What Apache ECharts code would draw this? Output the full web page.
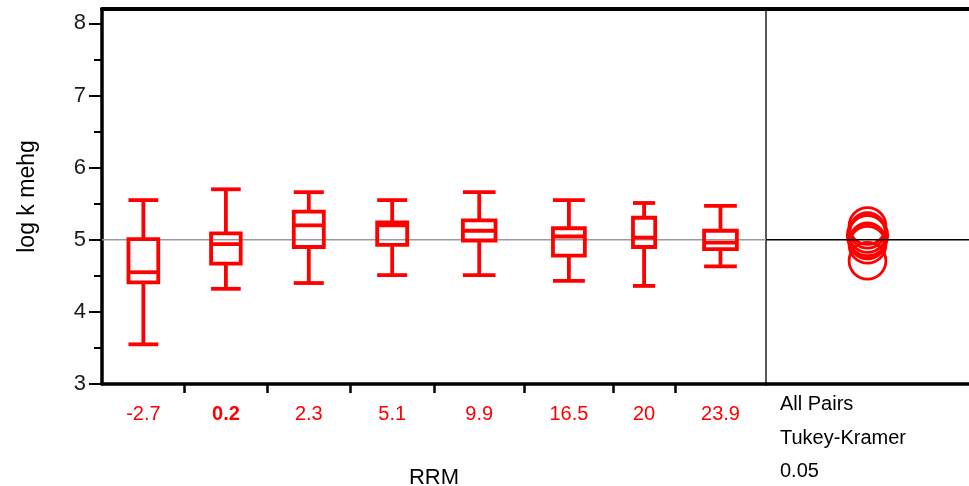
<!DOCTYPE html>
<html><head><meta charset="utf-8">
<script src="https://cdn.jsdelivr.net/npm/echarts@6/dist/echarts.min.js"></script>
<style>html,body{margin:0;padding:0;background:#fff}#c{width:969px;height:486px}</style>
</head><body><div id="c"></div>
<script>
// ---- data ----
const categories   = ['-2.7', '0.2', '2.3', '5.1', '9.9', '16.5', '20', '23.9'];
const boldCategory = '0.2';
const groupWeights = [8.27, 8.23, 8.34, 8.33, 9.07, 8.86, 6.17, 9.10];
const whiskerLow   = [3.55, 4.32, 4.40, 4.51, 4.51, 4.43, 4.36, 4.63];
const q1           = [4.41, 4.67, 4.90, 4.93, 4.99, 4.78, 4.90, 4.87];
const median       = [4.55, 4.94, 5.20, 5.20, 5.125, 5.045, 5.03, 4.96];
const q3           = [5.01, 5.09, 5.39, 5.24, 5.27, 5.16, 5.305, 5.125];
const whiskerHigh  = [5.55, 5.70, 5.66, 5.55, 5.66, 5.55, 5.51, 5.47];
const groupMeans   = [4.71, 4.93, 5.19, 5.08, 5.13, 4.99, 5.06, 4.98];
const circleRadii  = [0.255, 0.255, 0.255, 0.255, 0.245, 0.245, 0.28, 0.245];
const grandMean    = 5;
const yTicks       = [3, 4, 5, 6, 7, 8];
const yMinorTicks  = [3.5, 4.5, 5.5, 6.5, 7.5];
const yMin = 3, yMax = 8.2;
const comparisonText = ['All Pairs', 'Tukey-Kramer', '0.05'];
const xName = 'RRM', yName = 'log k mehg';

// ---- derived ----
const total = groupWeights.reduce((a, b) => a + b, 0);
const bounds = [0];
groupWeights.forEach(w => bounds.push(bounds[bounds.length - 1] + w));
const centers = groupWeights.map((w, i) => bounds[i] + w / 2);
const innerBounds = bounds.slice(1, bounds.length - 1);
const boxData = categories.map((c, i) => [centers[i], whiskerLow[i], q1[i], median[i], q3[i], whiskerHigh[i], groupWeights[i]]);
const circleData = groupMeans.map((m, i) => [0.5, m, circleRadii[i]]);

const RED = '#ff0000';
const BOX_FRAC = 0.36;
const LW = 3.8;

function renderBox(params, api) {
  const x = api.value(0), hw = api.value(6) * BOX_FRAC / 2;
  const xl = api.coord([x - hw, yMin])[0], xr = api.coord([x + hw, yMin])[0], xc = api.coord([x, yMin])[0];
  const yLo = api.coord([x, api.value(1)])[1];
  const yQ1 = api.coord([x, api.value(2)])[1];
  const yMd = api.coord([x, api.value(3)])[1];
  const yQ3 = api.coord([x, api.value(4)])[1];
  const yHi = api.coord([x, api.value(5)])[1];
  const st = { stroke: RED, lineWidth: LW, fill: null };
  return {
    type: 'group',
    children: [
      { type: 'line', shape: { x1: xc, y1: yQ3, x2: xc, y2: yHi }, style: st },
      { type: 'line', shape: { x1: xc, y1: yQ1, x2: xc, y2: yLo }, style: st },
      { type: 'line', shape: { x1: xl, y1: yHi, x2: xr, y2: yHi }, style: st },
      { type: 'line', shape: { x1: xl, y1: yLo, x2: xr, y2: yLo }, style: st },
      { type: 'rect', shape: { x: xl, y: yQ3, width: xr - xl, height: yQ1 - yQ3 }, style: { stroke: RED, lineWidth: LW, fill: 'rgba(0,0,0,0)' } },
      { type: 'line', shape: { x1: xl, y1: yMd, x2: xr, y2: yMd }, style: st }
    ]
  };
}

function renderCircle(params, api) {
  const p = api.coord([api.value(0), api.value(1)]);
  const r = api.size([0, api.value(2)])[1];
  return { type: 'circle', shape: { cx: p[0], cy: p[1], r: r }, style: { stroke: RED, lineWidth: 2.8, fill: 'rgba(0,0,0,0)' } };
}

const chart = echarts.init(document.getElementById('c'), null, { renderer: 'canvas' });
const noAxisDeco = { axisTick: { show: false }, axisLabel: { show: false }, splitLine: { show: false } };

chart.setOption({
  animation: false,
  backgroundColor: '#fff',
  textStyle: { fontFamily: 'Liberation Sans, Arial, sans-serif' },
  grid: [
    { left: 102, right: 203, top: 9, bottom: 102, outerBoundsMode: 'none' },
    { left: 766, right: 0, top: 9, bottom: 102, outerBoundsMode: 'none' }
  ],
  xAxis: [
    {
      gridIndex: 0, type: 'value', min: 0, max: total, position: 'bottom',
      axisLine: { lineStyle: { color: '#000', width: 3.5 } },
      axisTick: { customValues: innerBounds, length: 9, lineStyle: { color: '#000', width: 2.5 } },
      axisLabel: {
        customValues: centers, margin: 20, fontSize: 20, color: RED,
        formatter: function (v) {
          const i = centers.findIndex(c => Math.abs(c - v) < 1e-6);
          const t = i >= 0 ? categories[i] : '';
          return t === boldCategory ? '{b|' + t + '}' : t;
        },
        rich: { b: { fontWeight: 'bold', fontSize: 20, color: RED } }
      },
      splitLine: { show: false },
      name: xName, nameLocation: 'middle', nameGap: 83,
      nameTextStyle: { fontSize: 22, color: '#000' }
    },
    Object.assign({ gridIndex: 0, type: 'value', min: 0, max: total, position: 'top',
      axisLine: { lineStyle: { color: '#000', width: 4 } } }, noAxisDeco),
    Object.assign({ gridIndex: 1, type: 'value', min: 0, max: 1, position: 'bottom',
      axisLine: { lineStyle: { color: '#000', width: 3.5 } } }, noAxisDeco),
    Object.assign({ gridIndex: 1, type: 'value', min: 0, max: 1, position: 'top',
      axisLine: { lineStyle: { color: '#000', width: 4 } } }, noAxisDeco)
  ],
  yAxis: [
    {
      gridIndex: 0, type: 'value', min: yMin, max: yMax, position: 'left',
      axisLine: { lineStyle: { color: '#000', width: 3.5 } },
      axisTick: { customValues: yTicks, length: 13, lineStyle: { color: '#000', width: 2 } },
      axisLabel: { customValues: yTicks, fontSize: 22, margin: 16, color: '#1a1a1a' },
      splitLine: { show: false },
      name: yName, nameLocation: 'middle', nameGap: 63,
      nameTextStyle: { fontSize: 23, color: '#000' }
    },
    {
      gridIndex: 0, type: 'value', min: yMin, max: yMax, position: 'left',
      axisLine: { show: false },
      axisTick: { customValues: yMinorTicks, length: 8, lineStyle: { color: '#000', width: 2 } },
      axisLabel: { show: false }, splitLine: { show: false }
    },
    Object.assign({ gridIndex: 1, type: 'value', min: yMin, max: yMax, position: 'left',
      axisLine: { lineStyle: { color: '#222', width: 1.5 } } }, noAxisDeco)
  ],
  series: [
    {
      type: 'line', xAxisIndex: 0, yAxisIndex: 0, z: 1, silent: true,
      data: [[0, grandMean], [total, grandMean]], symbol: 'none',
      lineStyle: { color: '#9a9a9a', width: 1.5 }
    },
    {
      type: 'custom', xAxisIndex: 0, yAxisIndex: 0, z: 2,
      renderItem: renderBox, data: boxData, clip: false
    },
    {
      type: 'custom', xAxisIndex: 2, yAxisIndex: 2, z: 2,
      renderItem: renderCircle, data: circleData, clip: false
    },
    {
      type: 'line', xAxisIndex: 2, yAxisIndex: 2, z: 3, silent: true,
      data: [[0, grandMean], [1, grandMean]], symbol: 'none',
      lineStyle: { color: '#000', width: 1.5 }
    }
  ],
  graphic: [
    {
      type: 'text', x: 780, y: 388,
      style: { text: comparisonText.join('\n'), fontSize: 20, lineHeight: 33.5, fill: '#000',
        fontFamily: 'Liberation Sans, Arial, sans-serif' }
    }
  ]
});
</script>
</body></html>
